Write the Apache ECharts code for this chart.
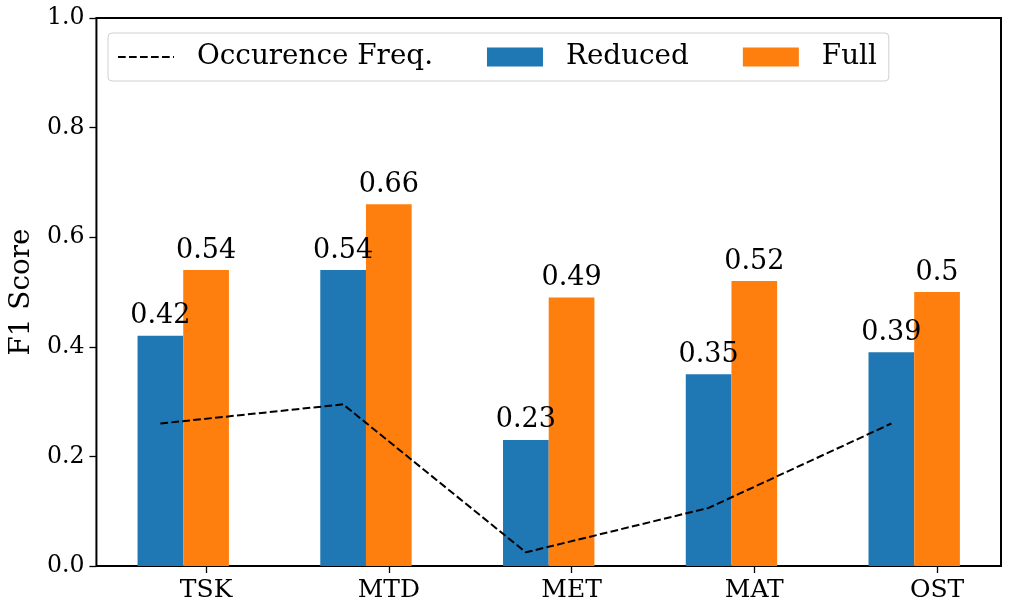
<!DOCTYPE html>
<html>
<head>
<meta charset="utf-8">
<script src="https://cdn.jsdelivr.net/npm/echarts@6/dist/echarts.min.js"></script>
<style>
  html, body { margin: 0; padding: 0; background: #fff; }
  #chart { width: 1011px; height: 611px; }
</style>
</head>
<body>
<div id="chart"></div>
<script>
// ---- data ----
const categories = ['TSK', 'MTD', 'MET', 'MAT', 'OST'];
const reduced = [0.42, 0.54, 0.23, 0.35, 0.39];
const full = [0.54, 0.66, 0.49, 0.52, 0.5];
const occurrenceFreq = [0.26, 0.295, 0.025, 0.106, 0.26];
const yTicks = [0, 0.2, 0.4, 0.6, 0.8, 1.0];

// ---- layout constants ----
const FONT = 'DejaVu Serif';
const OFFSET = 0.25; // full bar offset from reduced bar (x units)

const reducedData = reduced.map((v, i) => [i, v]);
const fullData = full.map((v, i) => [i + OFFSET, v]);
const lineData = occurrenceFreq.map((v, i) => [i, v]);
const tickPos = categories.map((c, i) => i + OFFSET);

// dashed-line legend icon (56 x 19 box, dashes centred vertically)
const dashIcon = 'path://M0,0M56,19' +
  'M0,8.5h7.7v2h-7.7z' +
  'M11,8.5h7.7v2h-7.7z' +
  'M22,8.5h7.7v2h-7.7z' +
  'M33,8.5h7.7v2h-7.7z' +
  'M44,8.5h7.7v2h-7.7z' +
  'M55,8.5h1v2h-1z';

const chart = echarts.init(document.getElementById('chart'), null, { renderer: 'canvas' });

const barLabel = {
  show: true,
  position: 'top',
  distance: 6,
  color: '#000',
  fontFamily: FONT,
  fontSize: 27,
  formatter: p => String(p.value[1])
};

chart.setOption({
  animation: false,
  backgroundColor: '#fff',
  textStyle: { fontFamily: FONT },
  grid: {
    left: 94, right: 10, top: 18, bottom: 45,
    show: true, borderColor: '#000', borderWidth: 2, backgroundColor: 'transparent'
  },
  legend: {
    left: 108, top: 33,
    orient: 'horizontal',
    padding: [10, 12, 10, 10],
    borderColor: '#d0d0d0', borderWidth: 1, borderRadius: 4,
    backgroundColor: 'rgba(255,255,255,0.8)',
    itemWidth: 56, itemHeight: 19, itemGap: 54,
    symbolKeepAspect: false,
    textStyle: { fontFamily: FONT, fontSize: 27.8, color: '#000', lineHeight: 28, padding: [0, 0, 0, 18] },
    data: [
      { name: 'Occurence Freq.', icon: dashIcon, itemStyle: { color: '#000' } },
      { name: 'Reduced', icon: 'rect' },
      { name: 'Full', icon: 'rect' }
    ]
  },
  xAxis: [
    {
      type: 'value', min: -0.35, max: 4.6,
      axisLine: { show: false, onZero: false },
      splitLine: { show: false },
      axisTick: { show: true, customValues: tickPos, length: 7, lineStyle: { color: '#000', width: 1.3 } },
      axisLabel: {
        show: true, customValues: tickPos, margin: 12,
        color: '#000', fontFamily: FONT, fontSize: 25,
        formatter: v => categories[Math.round(v - OFFSET)]
      }
    },
    {
      type: 'value', min: -0.35, max: 4.6, show: false,
      axisLine: { onZero: false },
      splitLine: { show: false }
    }
  ],
  yAxis: {
    type: 'value', min: 0, max: 1, interval: 0.2,
    name: 'F1 Score', nameLocation: 'middle', nameRotate: 90, nameGap: 57,
    nameTextStyle: { fontFamily: FONT, fontSize: 27.8, color: '#000' },
    axisLine: { show: false, onZero: false },
    splitLine: { show: false },
    axisTick: { show: true, length: 7, lineStyle: { color: '#000', width: 1.3 } },
    axisLabel: {
      margin: 12, color: '#000', fontFamily: FONT, fontSize: 23.6,
      customValues: yTicks,
      formatter: v => v.toFixed(1)
    }
  },
  series: [
    {
      name: 'Occurence Freq.', type: 'line', xAxisIndex: 0,
      data: lineData, symbol: 'none', z: 5,
      lineStyle: { color: '#000', width: 2, type: [7.7, 3.3] },
      itemStyle: { color: '#000' }
    },
    {
      name: 'Reduced', type: 'bar', xAxisIndex: 0,
      data: reducedData, barWidth: '25%',
      itemStyle: { color: '#1f77b4' }, label: barLabel, z: 2
    },
    {
      name: 'Full', type: 'bar', xAxisIndex: 1,
      data: fullData, barWidth: '25%',
      itemStyle: { color: '#ff7f0e' }, label: barLabel, z: 2
    }
  ]
});
</script>
</body>
</html>
